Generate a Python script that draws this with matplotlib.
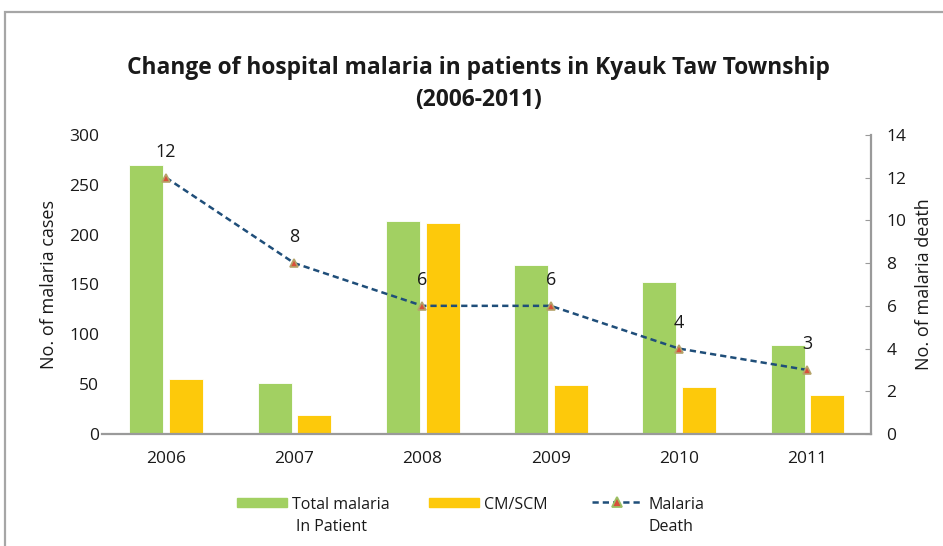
import matplotlib
matplotlib.use("Agg")
import matplotlib.pyplot as plt
import matplotlib.patches as mpatches
from matplotlib.lines import Line2D
import numpy as np

# ── Data ───────────────────────────────────────────────────────────────────────
years = ["2006", "2007", "2008", "2009", "2010", "2011"]
total_inpatient = [270, 51, 214, 170, 152, 89]
cm_scm = [55, 19, 212, 49, 47, 39]
deaths = [12, 8, 6, 6, 4, 3]

# ── Style ──────────────────────────────────────────────────────────────────────
GREEN = "#A2D062"
YELLOW = "#FDC90B"
NAVY = "#1F4E79"
GRAY = "#9A9A9A"
TEXT = "#1a1a1a"
MK_FACE = "#D9503A"
MK_EDGE = "#B5A36A"
DASH = (0, (2.5, 1.6))
plt.rcParams["font.family"] = ["Open Sans", "DejaVu Sans"]

W, H = 943, 546
fig = plt.figure(figsize=(W / 100, H / 100), dpi=100)
ax = fig.add_axes([0.108, 0.205, 0.816, 0.548])

def px(x, y):
    # pixel (from top-left) -> figure fraction
    return x / W, 1 - y / H

# outer frame
fig.patches.append(mpatches.Rectangle((5 / W, -0.05), 1.1, 1 - 12 / H + 0.05,
                                      transform=fig.transFigure, fill=False,
                                      edgecolor="#A6A6A6", linewidth=1.6))

x = np.arange(len(years))
w = 0.265
ax.bar(x - 0.152, total_inpatient, width=w, color=GREEN, edgecolor="white",
       linewidth=0.6, zorder=2)
ax.bar(x + 0.158, cm_scm, width=w, color=YELLOW, edgecolor="white",
       linewidth=0.6, zorder=2)

ax.set_xlim(-0.5, len(years) - 0.5)
ax.set_ylim(0, 300)
ax.set_yticks(range(0, 301, 50))
ax.set_xticks(x)
ax.set_xticklabels(years)
ax.tick_params(axis="both", length=0, labelsize=12.5, colors=TEXT)
ax.tick_params(axis="y", pad=2)
ax.tick_params(axis="x", pad=12)
for s in ["left", "top", "right"]:
    ax.spines[s].set_visible(False)
ax.spines["bottom"].set_color(GRAY)
ax.spines["bottom"].set_linewidth(1.6)
ax.set_ylabel("No. of malaria cases", fontsize=13, color=TEXT, labelpad=8)

ax2 = ax.twinx()
ax2.plot(x, deaths, linestyle=DASH, color=NAVY, linewidth=1.8,
         marker="^", markersize=6, markerfacecolor=MK_FACE,
         markeredgecolor=MK_EDGE, markeredgewidth=1.2, zorder=3)
for xi, d in zip(x, deaths):
    ax2.annotate(str(d), (xi, d), xytext=(0, 12), textcoords="offset points",
                 ha="center", va="bottom", fontsize=13, color=TEXT)
ax2.set_ylim(0, 14)
ax2.set_yticks(range(0, 15, 2))
ax2.tick_params(axis="y", direction="in", length=4, color=GRAY,
                labelsize=12.5, labelcolor=TEXT, pad=11)
for s in ["left", "top", "bottom"]:
    ax2.spines[s].set_visible(False)
ax2.spines["right"].set_color(GRAY)
ax2.spines["right"].set_linewidth(1.6)
ax2.set_ylabel("No. of malaria death", fontsize=13, color=TEXT, labelpad=6)

fig.text(*px(478, 84), "Change of hospital malaria in patients in Kyauk Taw Township\n(2006-2011)",
         ha="center", va="center", fontsize=16.4, fontweight="bold", color=TEXT,
         linespacing=1.45)

# ── Legend (handles aligned with first text line, as in the original) ─────────
fig.patches.append(mpatches.Rectangle(px(237, 507), 50 / W, 9 / H,
                                      transform=fig.transFigure, color=GREEN))
fig.patches.append(mpatches.Rectangle(px(429, 507), 50 / W, 9 / H,
                                      transform=fig.transFigure, color=YELLOW))
lx0, ly = px(592, 502)
lx1, _ = px(643, 502)
fig.add_artist(Line2D([lx0, lx1], [ly, ly], transform=fig.transFigure,
                      linestyle=DASH, color=NAVY, linewidth=1.8))
fig.add_artist(Line2D([(lx0 + lx1) / 2], [ly], transform=fig.transFigure,
                      marker="^", markersize=7, markerfacecolor=MK_FACE,
                      markeredgecolor="#9BC063", markeredgewidth=1.3))
leg_kw = dict(ha="left", va="center", fontsize=11.5, color=TEXT)
fig.text(*px(292, 505), "Total malaria", **leg_kw)
fig.text(*px(296, 527), "In Patient", **leg_kw)
fig.text(*px(484, 505), "CM/SCM", **leg_kw)
fig.text(*px(648, 505), "Malaria", **leg_kw)
fig.text(*px(648, 527), "Death", **leg_kw)

fig.savefig("out.png", dpi=100)
